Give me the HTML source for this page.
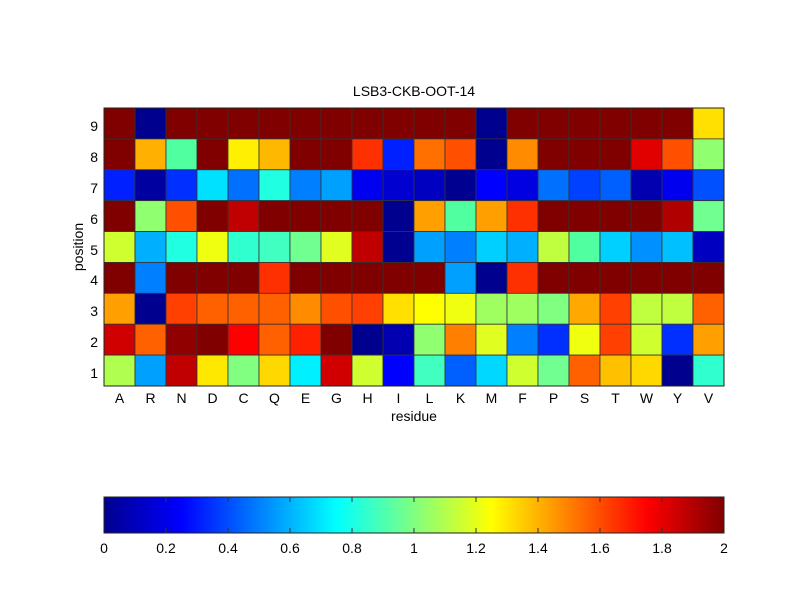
<!DOCTYPE html>
<html><head><meta charset="utf-8"><style>
body{margin:0;background:#fff;}
svg text{font-family:"Liberation Sans",Arial,sans-serif;font-size:14px;fill:#000;}
</style></head><body>
<svg id="s" width="800" height="600" xmlns="http://www.w3.org/2000/svg">
<defs>
<linearGradient id="jet" x1="0" x2="1" y1="0" y2="0">
<stop offset="0" stop-color="#00008f"/>
<stop offset="0.125" stop-color="#0000ff"/>
<stop offset="0.375" stop-color="#00ffff"/>
<stop offset="0.625" stop-color="#ffff00"/>
<stop offset="0.875" stop-color="#ff0000"/>
<stop offset="1" stop-color="#800000"/>
</linearGradient>
</defs>
<rect width="800" height="600" fill="#fff"/>
<g id="cells"></g>
<rect x="104" y="108" width="620" height="278" fill="none" stroke="#222" stroke-width="1"/>
<text x="414" y="96" text-anchor="middle">LSB3-CKB-OOT-14</text>
<g text-anchor="end">
<text x="98" y="131">9</text><text x="98" y="162">8</text><text x="98" y="193">7</text>
<text x="98" y="224">6</text><text x="98" y="255">5</text><text x="98" y="285">4</text>
<text x="98" y="316">3</text><text x="98" y="347">2</text><text x="98" y="378">1</text>
</g>
<g text-anchor="middle">
<text x="119.5" y="403">A</text><text x="150.5" y="403">R</text><text x="181.5" y="403">N</text><text x="212.5" y="403">D</text><text x="243.5" y="403">C</text><text x="274.5" y="403">Q</text><text x="305.5" y="403">E</text><text x="336.5" y="403">G</text><text x="367.5" y="403">H</text><text x="398.5" y="403">I</text><text x="429.5" y="403">L</text><text x="460.5" y="403">K</text><text x="491.5" y="403">M</text><text x="522.5" y="403">F</text><text x="553.5" y="403">P</text><text x="584.5" y="403">S</text><text x="615.5" y="403">T</text><text x="646.5" y="403">W</text><text x="677.5" y="403">Y</text><text x="708.5" y="403">V</text>
<text x="414" y="421">residue</text>
<text x="0" y="0" transform="translate(83,247) rotate(-90)">position</text>
</g>
<rect x="104" y="497" width="620" height="36" fill="url(#jet)" stroke="#222" stroke-width="1"/>
<g stroke="#333" stroke-width="1" id="ticks"></g>
<g text-anchor="middle">
<text x="104" y="553">0</text><text x="166" y="553">0.2</text><text x="228" y="553">0.4</text><text x="290" y="553">0.6</text><text x="352" y="553">0.8</text><text x="414" y="553">1</text><text x="476" y="553">1.2</text><text x="538" y="553">1.4</text><text x="600" y="553">1.6</text><text x="662" y="553">1.8</text><text x="724" y="553">2</text>
</g>
</svg>
<script>
var D='#800000';
var rows=[
[D,'#00008f',D,D,D,D,D,D,D,D,D,D,'#00008f',D,D,D,D,D,D,'#ffe000'],
[D,'#ffb000','#50ffa0',D,'#ffef00','#ffb800',D,D,'#ff3000','#0020ff','#ff7000','#ff5000','#00008f','#ff8c00',D,D,D,'#e00000','#ff5000','#90ff70'],
['#0020ff','#0000a0','#0030ff','#00e0ff','#0070ff','#20ffe0','#0080ff','#00a0ff','#0000f0','#0000d0','#0000c0','#000090','#0000ff','#0000e0','#0070ff','#0040ff','#0060ff','#0000b0','#0000ef','#0050ff'],
[D,'#90ff70','#ff5000',D,'#c00000',D,D,D,D,'#00008f','#ffa000','#50ffa0','#ffa000','#ff3000',D,D,D,D,'#b00000','#70ff90'],
['#d0ff30','#00b0ff','#20ffe0','#f0ff10','#30ffd0','#40ffc0','#70ff90','#e0ff20','#c00000','#000090','#00a0ff','#0080ff','#00d0ff','#00b0ff','#c0ff40','#50ffa0','#00d0ff','#0090ff','#00c0ff','#0000c0'],
[D,'#0080ff',D,D,D,'#ff3000',D,D,D,D,D,'#00a0ff','#00008f','#ff3000',D,D,D,D,D,D],
['#ffa000','#00008f','#ff4000','#ff6000','#ff6000','#ff6000','#ff8c00','#ff5000','#ff4000','#ffe000','#ffff00','#f0ff10','#a0ff60','#a0ff60','#80ff80','#ffa800','#ff4000','#c0ff40','#c0ff40','#ff6000'],
['#d00000','#ff6000','#900000','#800000','#ff0000','#ff6000','#ff2000','#800000','#00008f','#0000b0','#90ff70','#ff8000','#e0ff20','#0080ff','#0030ff','#f0ff10','#ff4000','#d0ff30','#0030ff','#ffa000'],
['#b0ff50','#00a0ff','#c00000','#ffe800','#80ff80','#ffd800','#00f0ff','#d00000','#d0ff30','#0000ff','#40ffc0','#0060ff','#00d8ff','#d0ff30','#70ff90','#ff6000','#ffc000','#ffd800','#00008f','#30ffd0']];
var g=document.getElementById('cells'),h='',ch=278/9;
for(var r=0;r<9;r++)for(var c=0;c<20;c++){
h+='<rect x="'+(104+c*31)+'" y="'+(108+r*ch).toFixed(2)+'" width="31" height="'+ch.toFixed(2)+'" fill="'+rows[r][c]+'" stroke="#333" stroke-width="0.8"/>';}
g.innerHTML=h;
var t='';for(var i=1;i<10;i++){var x=104+i*62;t+='<line x1="'+x+'" y1="497" x2="'+x+'" y2="502"/><line x1="'+x+'" y1="533" x2="'+x+'" y2="528"/>';}
document.getElementById('ticks').innerHTML=t;
</script>
</body></html>
